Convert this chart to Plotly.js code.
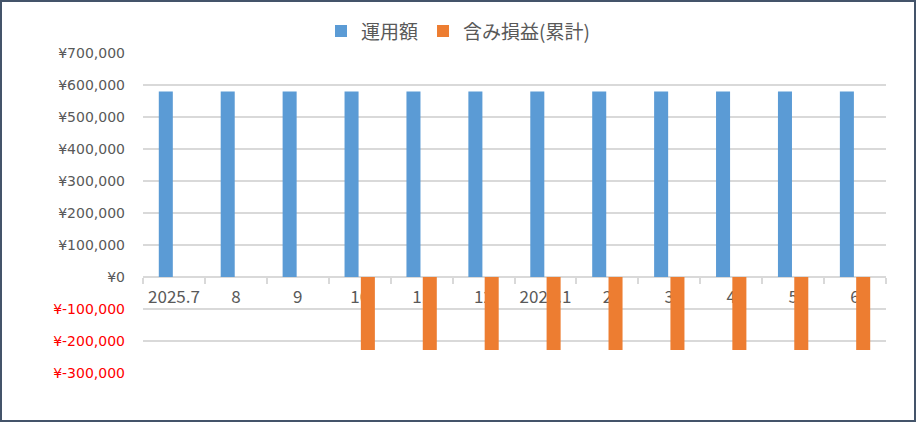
<!DOCTYPE html>
<html>
<head>
<meta charset="utf-8">
<script src="https://cdn.plot.ly/plotly-3.0.1.min.js"></script>
<style>
  html, body { margin: 0; padding: 0; background: #fff; }
  #wrap { width: 916px; height: 422px; box-sizing: border-box; border: 2px solid #44546a; background: #fff; }
  #chart { width: 912px; height: 418px; }
</style>
</head>
<body>
<div id="wrap"><div id="chart"></div></div>
<script>
// ---- data ----
const categories = ["2025.7", "8", "9", "10", "11", "12", "2026.1", "2", "3", "4", "5", "6"];
const investment = [580000, 580000, 580000, 580000, 580000, 580000, 580000, 580000, 580000, 580000, 580000, 580000];
const unrealizedPL = [0, 0, 0, -228000, -228000, -228000, -228000, -228000, -228000, -228000, -228000, -228000];
const yTickVals = [-300000, -200000, -100000, 0, 100000, 200000, 300000, 400000, 500000, 600000, 700000];
const seriesNames = ["運用額", "含み損益(累計)"];

function yen(v) {
  const s = "¥" + (v < 0 ? "-" : "") + Math.abs(v).toLocaleString("en-US");
  return v < 0 ? '<span style="fill:#FF0000">' + s + '</span>' : s;
}
const yTickText = yTickVals.map(yen);

const traces = [
  { type: "bar", name: seriesNames[0], x: categories, y: investment, marker: { color: "#5b9bd5" } },
  { type: "bar", name: seriesNames[1], x: categories, y: unrealizedPL, marker: { color: "#ed7d31" } }
];

const layout = {
  width: 912, height: 418,
  margin: { l: 141, r: 28, t: 51, b: 47 },
  paper_bgcolor: "#fff", plot_bgcolor: "#fff",
  barmode: "group", bargap: 0.473, bargroupgap: 0.14,
  showlegend: true,
  legend: {
    orientation: "h", xref: "container", x: 0.5, xanchor: "center",
    yref: "container", y: 0.93, yanchor: "middle",
    font: { family: "Noto Sans CJK JP", size: 19, color: "#595959" },
    itemwidth: 30, traceorder: "normal"
  },
  xaxis: {
    type: "category", anchor: "free", position: 0.3,
    showline: true, linecolor: "#d9d9d9", linewidth: 2,
    ticks: "outside", tickson: "boundaries", ticklen: 6, tickwidth: 2, tickcolor: "#d9d9d9",
    showgrid: false, zeroline: false, layer: "below traces",
    tickfont: { family: "Noto Sans CJK JP", size: 17, color: "#595959" },
    ticklabelstandoff: 5, fixedrange: true
  },
  yaxis: {
    range: [-300000, 700000], tickvals: yTickVals, ticktext: yTickText,
    showgrid: true, gridcolor: "#d9d9d9", gridwidth: 2,
    zeroline: false, showline: false, ticks: "",
    tickfont: { family: "DejaVu Sans", size: 14, color: "#595959" },
    ticklabelstandoff: 17, fixedrange: true
  }
};

Plotly.newPlot("chart", traces, layout, { displayModeBar: false, staticPlot: true });
</script>
</body>
</html>
